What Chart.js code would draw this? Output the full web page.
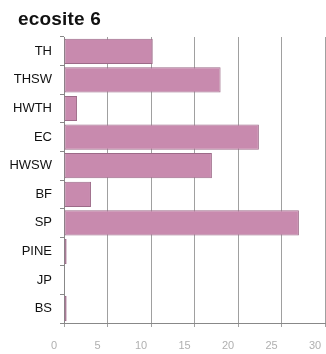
<!DOCTYPE html>
<html>
<head>
<meta charset="utf-8">
<script src="https://cdn.jsdelivr.net/npm/chart.js@4"></script>
<style>
  html, body { margin: 0; padding: 0; background: #fff; }
  #wrap { width: 326px; height: 354px; position: relative; }
  #title {
    position: absolute; left: 18px; top: 8px; line-height: 19px;
    font: bold 19px "Liberation Sans", Arial, sans-serif; color: #111;
    letter-spacing: 0.2px;
  }
</style>
</head>
<body>
<div id="wrap">
  <div id="title">ecosite 6</div>
  <canvas id="myChart"></canvas>
</div>
<script>
// ecosite 6 - percentage by forest type
const categories = ['TH', 'THSW', 'HWTH', 'EC', 'HWSW', 'BF', 'SP', 'PINE', 'JP', 'BS'];
const values = [10.2, 18.0, 1.5, 22.4, 17.0, 3.1, 27.0, 0.3, 0, 0.3];
const xTicks = [0, 5, 10, 15, 20, 25, 30];

const ctx = document.getElementById('myChart').getContext('2d');
const myChart = new Chart(ctx, {
    type: 'bar',
    data: {
        labels: categories,
        datasets: [{
            label: 'ecosite 6',
            data: values,
            backgroundColor: '#c88aae',
            borderColor: '#9c6a88',
            borderWidth: 1,
            borderSkipped: false,
            categoryPercentage: 0.88,
            barPercentage: 1.0
        }]
    },
    options: {
        indexAxis: 'y',
        responsive: true,
        maintainAspectRatio: false,
        animation: false,
        layout: {
            padding: { left: 0, right: 1, top: 37, bottom: 0 }
        },
        plugins: {
            legend: { display: false },
            tooltip: { enabled: false },
            title: { display: false }
        },
        scales: {
            x: {
                min: 0,
                max: 30,
                afterBuildTicks: (scale) => {
                    scale.ticks = xTicks.map(v => ({ value: v }));
                },
                afterFit: (scale) => {
                    scale.paddingRight = 0;
                    scale.paddingLeft = 0;
                    scale.height = 31;
                },
                grid: {
                    color: '#a0a0a0',
                    lineWidth: 1,
                    tickLength: 4,
                    drawTicks: true
                },
                border: { color: '#888' },
                ticks: {
                    color: '#b0b0b0',
                    font: { family: 'Liberation Sans', size: 11 },
                    padding: 12,
                    labelOffset: -10
                }
            },
            y: {
                afterFit: (scale) => { scale.width = 64; },
                grid: {
                    drawOnChartArea: false,
                    tickLength: 4,
                    color: '#888',
                    offset: true
                },
                border: { color: '#888' },
                ticks: {
                    color: '#111',
                    font: { family: 'Liberation Sans', size: 13 },
                    padding: 8
                }
            }
        }
    }
});
</script>
</body>
</html>
